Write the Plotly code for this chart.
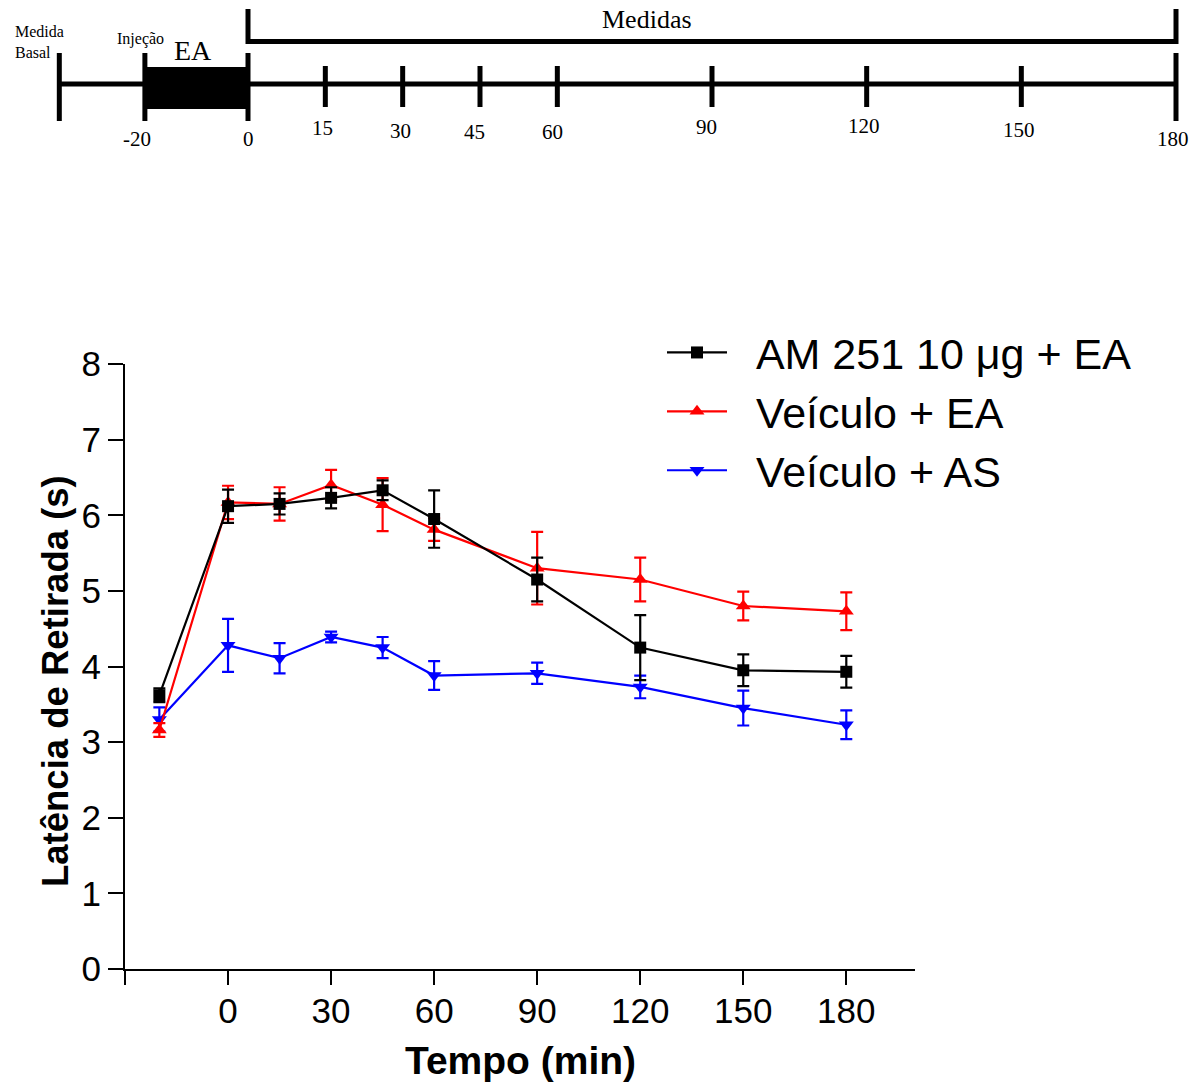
import plotly.graph_objects as go

# ---------------- data ----------------
times = [-20, 0, 15, 30, 45, 60, 90, 120, 150, 180]
x_tick_vals = [-30, 0, 30, 60, 90, 120, 150, 180]
x_tick_text = ["", "0", "30", "60", "90", "120", "150", "180"]
y_tick_vals = [0, 1, 2, 3, 4, 5, 6, 7, 8]

am251_mean = [3.62, 6.12, 6.15, 6.23, 6.33, 5.95, 5.15, 4.25, 3.95, 3.93]
am251_sem = [0.09, 0.22, 0.14, 0.14, 0.13, 0.38, 0.29, 0.43, 0.21, 0.21]
veh_ea_mean = [3.16, 6.17, 6.15, 6.40, 6.14, 5.81, 5.30, 5.15, 4.80, 4.73]
veh_ea_sem = [0.09, 0.22, 0.22, 0.20, 0.35, 0.15, 0.48, 0.29, 0.19, 0.25]
veh_as_mean = [3.30, 4.28, 4.11, 4.39, 4.25, 3.88, 3.91, 3.73, 3.45, 3.23]
veh_as_sem = [0.16, 0.35, 0.20, 0.07, 0.14, 0.19, 0.14, 0.15, 0.23, 0.19]

series_names = ["AM 251 10 \u03bcg + EA", "Ve\u00edculo + EA", "Ve\u00edculo + AS"]

# timeline diagram (protocol)
tl_basal = -36.6
tl_injection = -20
tl_start = 0
tl_end = 180
tl_ticks = [15, 30, 45, 60, 90, 120, 150]
tl_labels = ["-20", "0", "15", "30", "45", "60", "90", "120", "150", "180"]
tl_label_pos = [-21.5, 0, 14.5, 29.5, 44, 59, 89, 119.5, 149.5, 179.5]

SANS = "Liberation Sans, Arial, sans-serif"
SERIF = "Liberation Serif, Times New Roman, serif"
W, H = 1201, 1084

fig = go.Figure()

def add_series(name, mean, sem, color, symbol, size, rank):
    fig.add_trace(go.Scatter(
        x=times, y=mean, name="\u00a0\u00a0" + name, mode="lines+markers",
        line=dict(color=color, width=2.2),
        marker=dict(symbol=symbol, size=size, color=color),
        error_y=dict(type="data", array=sem, visible=True, color=color,
                     thickness=2.2, width=6),
        legendrank=rank, xaxis="x", yaxis="y",
    ))

# draw order: blue, red, black (black on top)
add_series(series_names[2], veh_as_mean, veh_as_sem, "#0000ff", "triangle-down", 13, 3)
add_series(series_names[1], veh_ea_mean, veh_ea_sem, "#ff0000", "triangle-up", 13, 2)
add_series(series_names[0], am251_mean, am251_sem, "#000000", "square", 12, 1)

# ---------------- timeline shapes ----------------
shapes = []
LW = 5
def seg(x0, y0, x1, y1, w=LW):
    shapes.append(dict(type="line", xref="x2", yref="y2", x0=x0, y0=y0, x1=x1, y1=y1,
                       line=dict(color="black", width=w)))

seg(tl_basal, 84, tl_end, 84)
for xv in [tl_basal, tl_injection, tl_start, tl_end]:
    seg(xv, 53, xv, 121)
for xv in tl_ticks:
    seg(xv, 66, xv, 107)
shapes.append(dict(type="rect", xref="x2", yref="y2", x0=tl_injection, x1=tl_start,
                   y0=67, y1=109, fillcolor="black", line=dict(width=0)))
seg(tl_start, 9, tl_start, 44)
seg(tl_start, 41.5, tl_end, 41.5)
seg(tl_end, 9, tl_end, 44)

annotations = []
label_y = [139, 139, 128, 131, 132, 132, 127, 126, 130, 139]
for txt, xv, yv in zip(tl_labels, tl_label_pos, label_y):
    annotations.append(dict(text=txt, x=xv, y=yv, xref="x2", yref="y2", showarrow=False,
                            font=dict(family=SERIF, size=21, color="black"),
                            xanchor="center", yanchor="middle"))
annotations.append(dict(text="Medida<br>Basal", x=-45.5, y=42, xref="x2", yref="y2",
                        showarrow=False, align="left", xanchor="left", yanchor="middle",
                        font=dict(family=SERIF, size=16, color="black")))
annotations.append(dict(text="Inje\u00e7\u00e3o", x=-20.9, y=39, xref="x2", yref="y2",
                        showarrow=False, xanchor="center", yanchor="middle",
                        font=dict(family=SERIF, size=16, color="black")))
annotations.append(dict(text="EA", x=-10.7, y=50, xref="x2", yref="y2",
                        showarrow=False, xanchor="center", yanchor="middle",
                        font=dict(family=SERIF, size=28, color="black")))
annotations.append(dict(text="Medidas", x=77.4, y=19, xref="x2", yref="y2",
                        showarrow=False, xanchor="center", yanchor="middle",
                        font=dict(family=SERIF, size=26, color="black")))

annotations.append(dict(text="<b>Lat\u00eancia de Retirada (s)</b>", x=55 / W, y=1 - 681 / H,
                        xref="paper", yref="paper", showarrow=False, textangle=-90,
                        xanchor="center", yanchor="middle",
                        font=dict(family=SANS, size=36.5, color="black")))
annotations.append(dict(text="<b>Tempo (min)</b>", x=520 / W, y=1 - 1060 / H,
                        xref="paper", yref="paper", showarrow=False,
                        xanchor="center", yanchor="middle",
                        font=dict(family=SANS, size=39, color="black")))

fig.update_layout(
    width=W, height=H,
    margin=dict(l=0, r=0, t=0, b=0, autoexpand=False),
    paper_bgcolor="white", plot_bgcolor="white",
    showlegend=True,
    legend=dict(x=662 / W, y=1 - 318 / H, xanchor="left", yanchor="top",
                font=dict(family=SANS, size=43, color="black"),
                itemwidth=60, bgcolor="rgba(0,0,0,0)"),
    xaxis=dict(domain=[125 / W, 915 / W], range=[-30, 200], tickvals=x_tick_vals,
               ticktext=x_tick_text, ticks="outside", ticklen=14, tickwidth=2,
               tickcolor="black", showline=True, linecolor="black", linewidth=2,
               showgrid=False, zeroline=False, ticklabelstandoff=-4,
               tickfont=dict(family=SANS, size=35, color="black"), anchor="y"),
    yaxis=dict(domain=[1 - 969 / H, 1 - 364 / H], range=[0, 8], tickvals=y_tick_vals,
               ticks="outside", ticklen=15, tickwidth=2, tickcolor="black",
               showline=True, linecolor="black", linewidth=2, showgrid=False,
               zeroline=False,
               tickfont=dict(family=SANS, size=35, color="black"), anchor="x"),
    xaxis2=dict(domain=[0, 1], range=[-248 / (928 / 180), (W - 248) / (928 / 180)],
                visible=False, anchor="y2", fixedrange=True),
    yaxis2=dict(domain=[1 - 160 / H, 1], range=[160, 0], visible=False, anchor="x2",
                fixedrange=True),
    shapes=shapes,
    annotations=annotations,
)

fig.write_html("out.html", config={"displayModeBar": False},
               post_script="document.body.style.margin='0';document.body.style.overflow='hidden';")
